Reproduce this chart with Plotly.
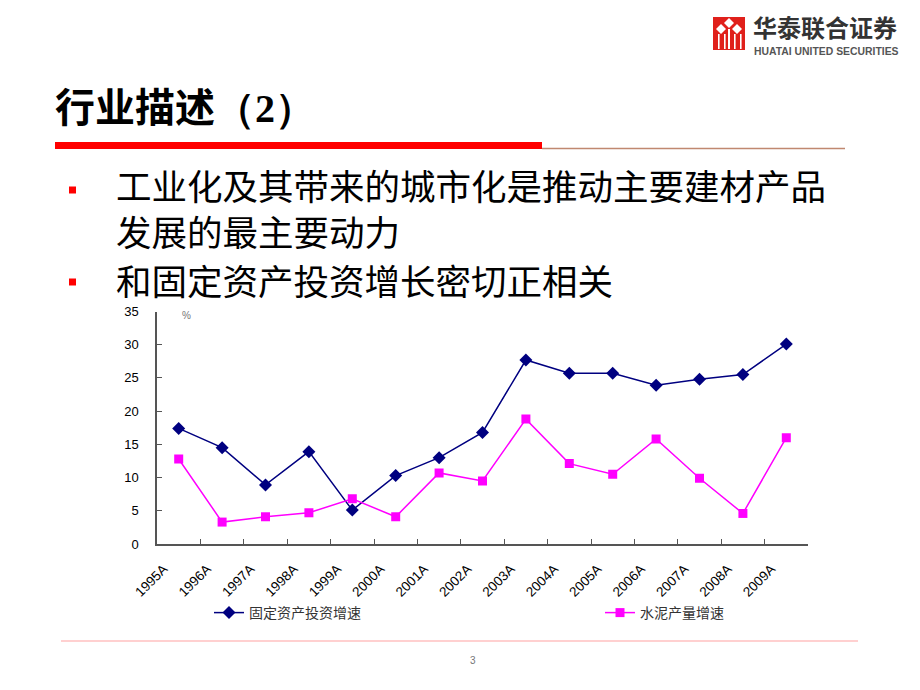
import plotly.graph_objects as go

years = ["1995A", "1996A", "1997A", "1998A", "1999A", "2000A", "2001A", "2002A",
         "2003A", "2004A", "2005A", "2006A", "2007A", "2008A", "2009A"]
fai_growth = [17.4, 14.5, 8.9, 13.9, 5.1, 10.3, 13.0, 16.8, 27.7, 25.7, 25.7, 23.9, 24.8, 25.5, 30.1]
cement_growth = [12.8, 3.3, 4.1, 4.7, 6.8, 4.1, 10.7, 9.5, 18.8, 12.1, 10.5, 15.8, 9.9, 4.6, 16.0]
series_names = ["固定资产投资增速", "水泥产量增速"]

W, H = 920, 690
def px(x):
    return x / W
def py(y):
    return 1 - y / H

CJK = "Noto Sans CJK SC"

fig = go.Figure()
fig.add_trace(go.Scatter(
    x=years, y=fai_growth, name=series_names[0], mode="lines+markers",
    line=dict(color="#000080", width=1.5),
    marker=dict(symbol="diamond", size=10, color="#000080"),
    legend="legend",
))
fig.add_trace(go.Scatter(
    x=years, y=cement_growth, name=series_names[1], mode="lines+markers",
    line=dict(color="#FF00FF", width=1.5),
    marker=dict(symbol="square", size=9, color="#FF00FF"),
    legend="legend2",
))

axis_col = "#555555"
leg_font = dict(family=CJK, size=14, color="#333333")
fig.update_layout(
    width=W, height=H,
    margin=dict(l=0, r=0, t=0, b=0, autoexpand=False),
    paper_bgcolor="white", plot_bgcolor="white",
    showlegend=True,
    legend=dict(orientation="h", x=px(209), y=py(613), xanchor="left", yanchor="middle",
                font=leg_font, bgcolor="rgba(0,0,0,0)"),
    legend2=dict(orientation="h", x=px(600), y=py(613), xanchor="left", yanchor="middle",
                 font=leg_font, bgcolor="rgba(0,0,0,0)"),
    xaxis=dict(domain=[px(157), px(808)], type="category", range=[-0.5, 14.5],
               automargin=False,
               showline=True, linecolor=axis_col, linewidth=1.5,
               ticks="inside", ticklen=5, tickcolor=axis_col, tickwidth=1,
               tickson="boundaries", tickangle=-45, showgrid=False, zeroline=False,
               tickfont=dict(family="Liberation Sans, Arial", size=13.5, color="#000000"),
               ticklabelshift=-15, ticklabelstandoff=10),
    yaxis=dict(domain=[py(544), py(311.5)], range=[0, 35], dtick=5,
               automargin=False,
               showline=True, linecolor=axis_col, linewidth=1.5,
               ticks="inside", ticklen=5, tickcolor=axis_col, tickwidth=1,
               showgrid=False, zeroline=False,
               tickfont=dict(family="Liberation Sans, Arial", size=13, color="#000000"),
               ticklabelstandoff=14),
)

shapes = []
# Title underline: red bar + thin brown line
shapes.append(dict(type="rect", xref="paper", yref="paper", x0=px(55), x1=px(542),
                   y0=py(149), y1=py(142), fillcolor="#FF0000", line=dict(width=0)))
shapes.append(dict(type="line", xref="paper", yref="paper", x0=px(542), x1=px(845),
                   y0=py(148.5), y1=py(148.5), line=dict(color="#C08870", width=1.5)))
# Bottom pink line
shapes.append(dict(type="line", xref="paper", yref="paper", x0=px(61), x1=px(858),
                   y0=py(641), y1=py(641), line=dict(color="#FFC0C0", width=1.5)))
# Bullets
for by in (190, 282):
    shapes.append(dict(type="rect", xref="paper", yref="paper", x0=px(69), x1=px(76),
                       y0=py(by + 3.5), y1=py(by - 3.5), fillcolor="#FF0000", line=dict(width=0)))
# Logo icon
shapes.append(dict(type="rect", xref="paper", yref="paper", x0=px(713), x1=px(745),
                   y0=py(50), y1=py(17), fillcolor="#E0201B", line=dict(width=0)))
def diamond(cx, cy, r):
    return (f"M {px(cx - r)},{py(cy)} L {px(cx)},{py(cy - r)} L {px(cx + r)},{py(cy)} "
            f"L {px(cx)},{py(cy + r)} Z")
for cx, cy in ((721, 29), (737, 29), (729, 23)):
    shapes.append(dict(type="path", xref="paper", yref="paper", path=diamond(cx, cy, 5),
                       fillcolor="white", line=dict(width=0)))
for bx in (718, 724, 734, 740):
    shapes.append(dict(type="rect", xref="paper", yref="paper", x0=px(bx), x1=px(bx + 1.6),
                       y0=py(49), y1=py(34), fillcolor="white", line=dict(width=0)))
shapes.append(dict(type="rect", xref="paper", yref="paper", x0=px(728), x1=px(730),
                   y0=py(49), y1=py(29), fillcolor="white", line=dict(width=0)))
fig.update_layout(shapes=shapes)

ann = []
ann.append(dict(text="华泰联合证券", x=px(751), y=py(27), xref="paper", yref="paper",
                xanchor="left", yanchor="middle", showarrow=False,
                font=dict(family=CJK, size=24, color="#333333", weight="bold")))
ann.append(dict(text="HUATAI UNITED SECURITIES", x=px(752), y=py(51), xref="paper", yref="paper",
                xanchor="left", yanchor="middle", showarrow=False,
                font=dict(family="Liberation Sans, Arial", size=10.4, color="#555555", weight="bold")))
ann.append(dict(text="行业描述<span style='font-family:Liberation Serif'>（2）</span>",
                x=px(53), y=py(105), xref="paper", yref="paper",
                xanchor="left", yanchor="middle", showarrow=False,
                font=dict(family=CJK, size=40, color="#000000", weight="bold")))
bullet_font = dict(family=CJK, size=35.5, color="#000000")
ann.append(dict(text="工业化及其带来的城市化是推动主要建材产品<br>发展的最主要动力",
                x=px(114), y=py(207), xref="paper", yref="paper", align="left",
                xanchor="left", yanchor="middle", showarrow=False, font=bullet_font))
ann.append(dict(text="和固定资产投资增长密切正相关", x=px(114), y=py(279), xref="paper", yref="paper",
                xanchor="left", yanchor="middle", showarrow=False, font=bullet_font))
ann.append(dict(text="%", x=px(186), y=py(316), xref="paper", yref="paper",
                xanchor="center", yanchor="middle", showarrow=False,
                font=dict(family="Liberation Sans, Arial", size=10, color="#777777")))
ann.append(dict(text="3", x=px(473), y=py(660), xref="paper", yref="paper",
                xanchor="center", yanchor="middle", showarrow=False,
                font=dict(family="Liberation Sans, Arial", size=10, color="#777777")))
fig.update_layout(annotations=ann)

fig.write_html("out.html")
